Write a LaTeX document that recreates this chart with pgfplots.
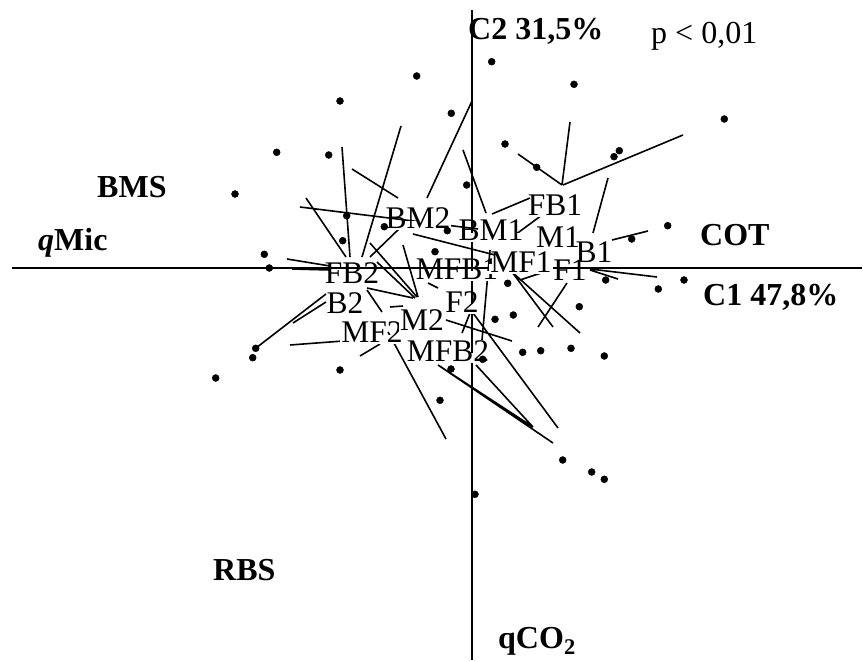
\documentclass[border=0pt]{standalone}
\usepackage{pgfplots}
\pgfplotsset{compat=1.18}
\usepackage{pgfplotstable}
\usepackage{fontspec}
\setmainfont{Liberation Serif}

\pgfplotstableread{
x y
491.7 61.7
416.7 76
340 101
451.3 113.3
276.7 152.3
328.7 155
466.7 185
235 194
346.7 215.7
384.3 226.7
447.3 230.7
342.7 240.7
435 251.7
264.3 254.3
269.3 268
574 84.3
724.3 119
505 144
536.7 167.3
619.3 150.7
614 156.7
667.7 225.7
631.7 239
605.7 280
658.3 289
684 280
579.3 306.7
507.7 283.3
495 319.3
513.3 315
522.7 352.3
540.7 350.7
571 348.3
604.3 356
482.7 359.3
451 369
255.7 348.3
252.7 357.7
215.7 378
340 370
440 400.3
562.7 460
591.7 472
604.3 479.3
475 494.3
}\points

\pgfplotstableread{
x y
362 257
401 126
nan nan
350 257
342 147
nan nan
346 257
306 198
nan nan
330 266
287 259
nan nan
330 270
292 269
nan nan
370 257
400 228
nan nan
472 101
427 198
nan nan
352 169
398 198
nan nan
463 150
486 213
nan nan
300 207
478 229
nan nan
492 214
530 198
nan nan
518 154
562 185
nan nan
570 122
562 185
nan nan
683 135
563 185
nan nan
608 178
593 233
nan nan
648 231
612 240
nan nan
515 235
542 215
nan nan
413 234
495 255
nan nan
512 272
553 327
nan nan
512 272
580 333
nan nan
520 280
550 270
nan nan
590 269
657 277
nan nan
590 270
618 279
nan nan
567 283
538 327
nan nan
380 268
415 268
nan nan
490 250
482 340
nan nan
428 283
438 288
nan nan
370 243
417 297
nan nan
403 245
418 297
nan nan
377 262
415 298
nan nan
367 288
413 298
nan nan
446 320
512 341
nan nan
326 294
256 348
nan nan
326 302
293 323
nan nan
367 290
382 312
nan nan
390 307
403 306
nan nan
290 345
343 341
nan nan
360 356
380 344
nan nan
388 332
446 439
nan nan
473 313
558 428
nan nan
462 333
470 313
nan nan
438 365
533 427
nan nan
438 365
553 443
nan nan
476 365
533 427
}\segs

\pgfplotstableread{
x y
12 267.5
862 267.5
nan nan
471.5 10
471.5 660
}\axlines

\begin{document}
\begin{tikzpicture}
\begin{axis}[
  width=863pt, height=660pt, scale only axis,
  xmin=0, xmax=863, ymin=0, ymax=660, y dir=reverse,
  hide axis, clip=false,
  unbounded coords=jump,
]
\path (axis cs:0,0) rectangle (axis cs:863,660);
\addplot[black, line width=2pt, no marks] table[x=x,y=y] {\axlines};
\addplot[black, line width=1.6pt, no marks] table[x=x,y=y] {\segs};
\addplot[only marks, mark=*, mark size=3.5pt, black] table[x=x,y=y] {\points};

\tikzset{lab/.style={font=\fontsize{31.5}{34}\selectfont, fill=white, inner sep=1pt, text height=0.7em, text depth=0.05em, anchor=base}}
\node[lab] at (axis cs:418,228.5) {BM2};
\node[lab] at (axis cs:491,240.5) {BM1};
\node[lab] at (axis cs:352,283) {FB2};
\node[lab] at (axis cs:345,313.5) {B2};
\node[lab] at (axis cs:372,342.5) {MF2};
\node[lab] at (axis cs:422,330.5) {M2};
\node[lab] at (axis cs:457,279) {MFB1};
\node[lab] at (axis cs:462,312) {F2};
\node[lab] at (axis cs:448,361) {MFB2};
\node[lab] at (axis cs:555,215.5) {FB1};
\node[lab] at (axis cs:521,272) {MF1};
\node[lab] at (axis cs:558,247) {M1};
\node[lab] at (axis cs:594,262) {B1};
\node[lab] at (axis cs:570,280.5) {F1};

\tikzset{tt/.style={font=\fontsize{32}{36}\selectfont, inner sep=0pt, anchor=base west}}
\node[tt] at (axis cs:468,40) {\textbf{C2 31,5\%}};
\node[tt] at (axis cs:651,44) {p < 0,01};
\node[tt] at (axis cs:97,197) {\textbf{BMS}};
\node[tt] at (axis cs:38,250) {\textbf{\textit{q}Mic}};
\node[tt] at (axis cs:700,245) {\textbf{COT}};
\node[tt] at (axis cs:703,305) {\textbf{C1 47,8\%}};
\node[tt] at (axis cs:213,580) {\textbf{RBS}};
\node[tt] at (axis cs:498,648) {\textbf{qCO\textsubscript{2}}};
\end{axis}
\end{tikzpicture}
\end{document}
